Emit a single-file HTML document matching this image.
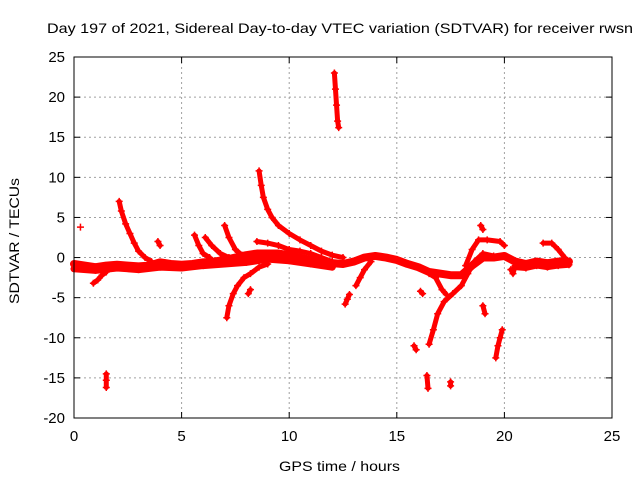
<!DOCTYPE html>
<html><head><meta charset="utf-8"><style>
html,body{margin:0;padding:0;background:#fff;}
svg{display:block;font-family:"Liberation Sans",sans-serif;}
</style></head><body>
<svg id="chart" width="640" height="480" xmlns="http://www.w3.org/2000/svg">
<rect width="640" height="480" fill="#fff"/>
<text x="47" y="33" font-size="14" textLength="586" lengthAdjust="spacingAndGlyphs">Day 197 of 2021, Sidereal Day-to-day VTEC variation (SDTVAR) for receiver rwsn</text>
<text x="279" y="471" font-size="14" textLength="121" lengthAdjust="spacingAndGlyphs">GPS time / hours</text>
<text transform="translate(19,304) rotate(-90)" font-size="14" textLength="126" lengthAdjust="spacingAndGlyphs">SDTVAR / TECUs</text>
<g id="grid"></g><g id="ticks"></g><g id="marks"></g>
<rect x="74" y="57" width="538" height="361" fill="none" stroke="#000" stroke-width="1"/>
</svg>
<script>
const xTicks=[0,5,10,15,20,25];
const yTicks=[25,20,15,10,5,0,-5,-10,-15,-20];
const baseline=[[0,-0.8],[0.5,-1],[1,-1.2],[1.5,-1],[2,-0.9],[2.5,-1],[3,-1.1],[3.5,-1],[4,-0.6],[4.5,-0.8],[5,-0.9],[5.5,-0.8],[6,-0.6],[6.5,-0.5],[7,-0.3],[7.5,0],[8,0.3],[8.5,0.5],[9,0.5],[9.5,0.5],[10,0.3],[10.5,0],[11,-0.3],[11.5,-0.5],[12,-0.7],[12.5,-0.8],[13,-0.5],[13.5,0],[14,0.2],[14.5,0],[15,-0.3],[15.5,-0.8],[16,-1.2],[16.5,-1.8],[17,-2],[17.5,-2.2],[18,-2.2],[18.5,-1],[19,0],[19.5,0],[20,0.2],[20.5,-0.5],[21,-0.8],[21.5,-0.5],[22,-0.7],[22.5,-0.5],[23,-0.5]];
const band=[[0,-1.4],[1,-1.6],[2,-1.3],[3,-1.5],[4,-1.2],[5,-1.3],[6,-1],[7,-0.8],[8,-0.6],[9,-0.2],[10,-0.4],[11,-0.8],[12,-1.2]];
const band2=[[20.5,-1.2],[21,-1.3],[21.5,-1],[22,-1.2],[22.5,-1],[23,-0.9]];
const tracks=[
[[0.9,-3.2],[1.1,-2.8],[1.3,-2.2],[1.5,-1.8]],
[[0.3,3.8]],
[[1.5,-14.5],[1.5,-15.3],[1.5,-16.2]],
[[2.1,7],[2.2,5.8],[2.4,4.2],[2.6,3],[2.8,1.8],[3,0.8],[3.3,0],[3.6,-0.5]],
[[3.9,2],[4,1.5]],
[[5.6,2.8],[5.8,1.5],[6,0.5],[6.3,0]],
[[6.1,2.5],[6.4,1.5],[6.8,0.5],[7.2,0]],
[[7,4],[7.2,2.5],[7.5,1],[7.8,0.3]],
[[7.1,-7.5],[7.2,-6],[7.4,-4.5],[7.6,-3.5],[7.9,-2.5],[8.2,-2],[8.6,-1.2],[9,-0.8]],
[[8.1,-4.5],[8.2,-4]],
[[8.5,2],[9,1.8],[9.5,1.5],[10,1],[10.5,0.8],[11,0.5],[11.5,0],[12,-0.5]],
[[8.6,10.8],[8.7,9],[8.8,7.5],[9,6],[9.2,5],[9.5,4],[10,3],[10.5,2.2],[11,1.5],[11.5,0.8],[12,0.3],[12.5,0]],
[[12.1,23],[12.15,21],[12.2,19],[12.25,17],[12.3,16.2]],
[[12.6,-5.8],[12.7,-5.2],[12.8,-4.6]],
[[13.1,-3.5],[13.3,-2.5],[13.5,-1.5],[13.8,-0.5]],
[[15.8,-11],[15.9,-11.5]],
[[16.1,-4.2],[16.2,-4.5]],
[[16.4,-14.7],[16.45,-16.3]],
[[17.5,-15.5],[17.5,-16]],
[[16.5,-10.8],[16.7,-9],[16.9,-7],[17.2,-5.5],[17.6,-4.5],[18,-3.5],[18.3,-2],[18.6,-0.5],[19,0.5],[19.5,0.2]],
[[16.5,-2],[16.8,-2.5],[17.1,-4],[17.3,-4.6]],
[[18.2,-1],[18.5,1],[18.8,2.2],[19.2,2.2],[19.8,2],[20,1.5]],
[[18.9,4],[19,3.5]],
[[19,-6],[19.1,-7]],
[[19.6,-12.5],[19.7,-11],[19.8,-10],[19.9,-9]],
[[20.3,-1.5],[20.4,-2],[20.5,-1]],
[[21.8,1.8],[22.2,1.8],[22.5,1],[22.8,0]]
];
const X0=74,X1=612,Y0=57,Y1=418;
const xs=v=>X0+(v-0)/25*(X1-X0);
const ys=v=>Y0+(25-v)/45*(Y1-Y0);
const NS='http://www.w3.org/2000/svg';
const grid=document.getElementById('grid'),tk=document.getElementById('ticks'),mk=document.getElementById('marks');
function el(t,a,p){const e=document.createElementNS(NS,t);for(const k in a)e.setAttribute(k,a[k]);p.appendChild(e);return e;}
xTicks.forEach(v=>{const x=xs(v);
 if(v>0&&v<25){const g=el('line',{x1:x,x2:x,y1:Y0,y2:Y1,stroke:'#a0a0a0','stroke-dasharray':'2,3'},grid);
 
 }
 el('line',{x1:x,x2:x,y1:Y1,y2:Y1-6,stroke:'#000'},tk);el('line',{x1:x,x2:x,y1:Y0,y2:Y0+6,stroke:'#000'},tk);
 const t=el('text',{x:x,y:Y1+23,'font-size':15,'text-anchor':'middle'},tk);t.textContent=v;
 
 });
yTicks.forEach(v=>{const y=ys(v);
 if(v<25&&v>-20){const g=el('line',{x1:X0,x2:X1,y1:y,y2:y,stroke:'#a0a0a0','stroke-dasharray':'2,3'},grid);
 
 }
 el('line',{x1:X0,x2:X0+6,y1:y,y2:y,stroke:'#000'},tk);el('line',{x1:X1,x2:X1-6,y1:y,y2:y,stroke:'#000'},tk);
 const t=el('text',{x:X0-9,y:y+5,'font-size':15,'text-anchor':'end'},tk);t.textContent=v;
 
 });
function drawTrack(pts,w){
 const g=el('g',{},mk);
 
 
 if(pts.length>1)el('polyline',{points:pts.map(p=>xs(p[0])+','+ys(p[1])).join(' '),fill:'none',stroke:'#f00','stroke-width':w,'stroke-linejoin':'round','stroke-linecap':'round'},g);
 let d='';pts.forEach(p=>{const x=xs(p[0]),y=ys(p[1]);d+=`M${x-3.5},${y}h7M${x},${y-3.5}v7`;});
 el('path',{d:d,stroke:'#f00','stroke-width':1.5,fill:'none'},g);
}
drawTrack(baseline,8);
drawTrack(band,7);
drawTrack(band2,6);
tracks.forEach(t=>drawTrack(t,5));
</script>
</body></html>
